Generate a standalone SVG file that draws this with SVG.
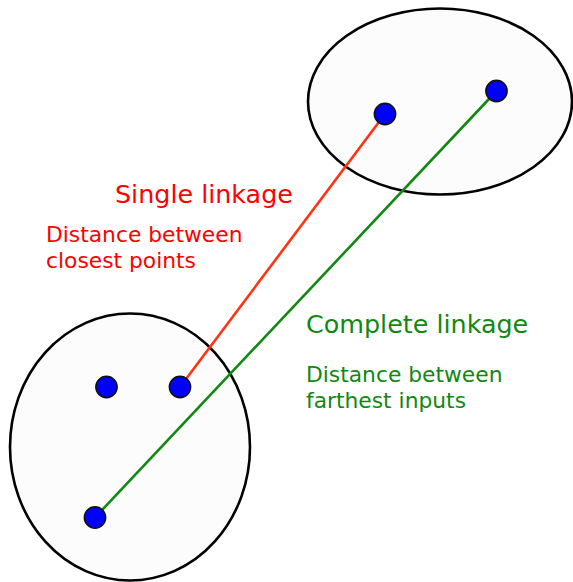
<svg xmlns="http://www.w3.org/2000/svg" width="573" height="582" viewBox="0 0 573 582">
<style>
.cluster{fill:#fcfcfc;stroke:#000;stroke-width:2.6}
.pt{fill:#0000ff;stroke:#111;stroke-width:1.6}
.red{fill:#ff0000;font-family:"DejaVu Sans",sans-serif}
.green{fill:#118811;font-family:"DejaVu Sans",sans-serif}
.t{font-size:25.4px}
.s{font-size:21.8px}
</style>
<rect width="573" height="582" fill="#ffffff"/>
<g id="cluster-top"><ellipse class="cluster" cx="440" cy="101.5" rx="132" ry="93"/></g>
<g id="cluster-bottom"><ellipse class="cluster" cx="130" cy="447" rx="120" ry="133.5"/></g>
<g id="connectors">
<line x1="180" y1="387" x2="385" y2="114" stroke="#ff3311" stroke-width="2.6"/>
<line x1="95" y1="517.5" x2="496.5" y2="91" stroke="#118811" stroke-width="2.6"/>
</g>
<g id="p1"><circle class="pt" cx="385" cy="114" r="10.6"/></g>
<g id="p2"><circle class="pt" cx="496.5" cy="91" r="10.6"/></g>
<g id="p3"><circle class="pt" cx="106.5" cy="387" r="10.6"/></g>
<g id="p4"><circle class="pt" cx="180" cy="387" r="10.6"/></g>
<g id="p5"><circle class="pt" cx="95" cy="517.5" r="10.6"/></g>
<g id="single-label">
<text class="red t" x="115" y="203">Single linkage</text>
<text class="red s" x="46" y="242">Distance between</text>
<text class="red s" x="46" y="268">closest points</text>
</g>
<g id="complete-label">
<text class="green t" x="306" y="333">Complete linkage</text>
<text class="green s" x="306" y="382">Distance between</text>
<text class="green s" x="306" y="408">farthest inputs</text>
</g>
</svg>
